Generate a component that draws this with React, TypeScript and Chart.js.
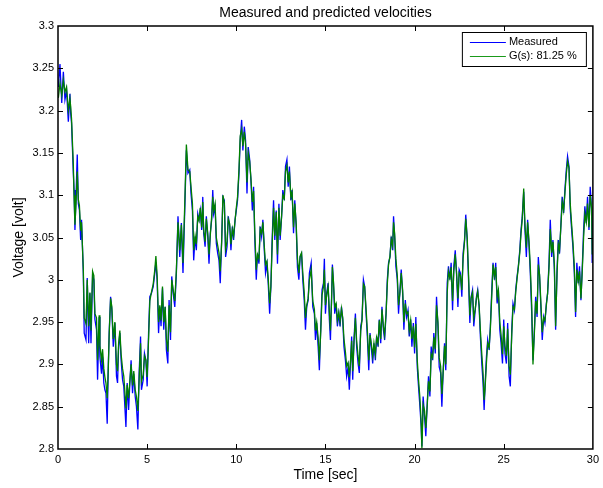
import React, { useEffect, useRef } from "react";
import { Chart, registerables } from "chart.js";

Chart.register(...registerables);

const chartTitle = "Measured and predicted velocities";
const xLabel = "Time [sec]";
const yLabel = "Voltage [volt]";
const seriesNames = ["Measured", "G(s): 81.25 %"];

const time = [
  0.02, 0.11, 0.21, 0.30, 0.39, 0.48, 0.58, 0.67, 0.71, 0.76, 0.86, 0.90, 0.95, 1.01, 1.08, 1.14, 1.20, 1.27, 1.32, 1.42,
  1.47, 1.57, 1.64, 1.72, 1.79, 1.85, 1.94, 2.01, 2.07, 2.16, 2.22, 2.31, 2.35, 2.44, 2.50, 2.57, 2.63, 2.69, 2.76, 2.82,
  2.87, 2.95, 3.02, 3.10, 3.19, 3.28, 3.34, 3.40, 3.47, 3.54, 3.62, 3.69, 3.75, 3.81, 3.88, 3.96, 4.03, 4.10, 4.18, 4.25,
  4.33, 4.40, 4.48, 4.55, 4.63, 4.68, 4.78, 4.85, 4.93, 5.00, 5.08, 5.15, 5.24, 5.34, 5.43, 5.49, 5.56, 5.64, 5.71, 5.78,
  5.86, 5.93, 6.01, 6.08, 6.16, 6.23, 6.31, 6.38, 6.46, 6.55, 6.64, 6.73, 6.83, 6.92, 7.01, 7.11, 7.20, 7.29,
  7.39, 7.46, 7.54, 7.61, 7.69, 7.76, 7.84, 7.91, 7.98, 8.06, 8.12, 8.17, 8.25, 8.32, 8.40, 8.47, 8.54, 8.62, 8.68, 8.73,
  8.81, 8.88, 8.96, 9.03, 9.10, 9.18, 9.25, 9.33, 9.40, 9.48, 9.55, 9.63, 9.70, 9.78, 9.85, 9.93, 10.00, 10.07, 10.15, 10.22,
  10.30, 10.37, 10.45, 10.52, 10.60, 10.67, 10.75, 10.82, 10.90, 10.97, 11.04, 11.12, 11.19, 11.27, 11.34, 11.42, 11.49, 11.57, 11.64, 11.72,
  11.79, 11.87, 11.94, 12.01, 12.09, 12.16, 12.24, 12.31, 12.39, 12.46, 12.54, 12.61, 12.69, 12.76, 12.84, 12.91, 12.98, 13.06, 13.13, 13.21,
  13.28, 13.36, 13.43, 13.51, 13.58, 13.66, 13.73, 13.81, 13.88, 13.95, 14.03,
  14.10, 14.20, 14.29, 14.38, 14.44, 14.51, 14.59, 14.66, 14.74, 14.81, 14.89, 14.94, 15.00, 15.07, 15.15, 15.22, 15.28, 15.34, 15.39, 15.45,
  15.52, 15.60, 15.67, 15.75, 15.82, 15.90, 15.97, 16.04, 16.12, 16.19, 16.27, 16.34, 16.42, 16.47, 16.53, 16.60, 16.68, 16.75, 16.83, 16.90,
  16.98, 17.05, 17.13, 17.20, 17.28, 17.35, 17.43, 17.50, 17.57, 17.65, 17.72, 17.80, 17.87, 17.95, 18.02, 18.10, 18.17, 18.25, 18.32, 18.40,
  18.47, 18.54, 18.62, 18.69, 18.77, 18.82, 18.88, 18.95, 19.03, 19.10, 19.18, 19.25, 19.33, 19.40, 19.48, 19.55, 19.63, 19.70, 19.78, 19.85,
  19.93, 20.00, 20.07, 20.15, 20.22, 20.30, 20.37, 20.41, 20.48, 20.56, 20.63, 20.71, 20.78, 20.86, 20.93, 21.01, 21.08, 21.16, 21.23, 21.31,
  21.38, 21.46, 21.53, 21.60, 21.68, 21.75, 21.83, 21.90, 21.98, 22.05, 22.13, 22.20, 22.28, 22.35, 22.43, 22.50,
  22.57, 22.65, 22.72, 22.80, 22.87, 22.95, 23.02, 23.10, 23.17, 23.25, 23.32, 23.40, 23.47, 23.54, 23.62, 23.69, 23.77, 23.84, 23.90, 23.95,
  24.03, 24.10, 24.18, 24.25, 24.33, 24.40, 24.48, 24.55, 24.63, 24.70, 24.78, 24.85, 24.93, 25.00, 25.07, 25.15, 25.22, 25.30, 25.37, 25.45,
  25.52, 25.60, 25.67, 25.75, 25.82, 25.90, 25.97, 26.04, 26.12, 26.19, 26.27, 26.34, 26.42, 26.49, 26.57, 26.64, 26.72, 26.79, 26.87, 26.94,
  27.01, 27.09, 27.16, 27.24, 27.31, 27.39, 27.46, 27.54, 27.61, 27.69, 27.76, 27.84, 27.91, 27.99, 28.06, 28.13, 28.21, 28.28, 28.36, 28.43,
  28.51, 28.58, 28.66, 28.73, 28.81, 28.88, 28.96, 29.03, 29.10, 29.18, 29.25, 29.33, 29.40, 29.48, 29.55, 29.63, 29.70, 29.78, 29.85, 29.93,
  29.96,
];

const measured = [
  3.228, 3.255, 3.209, 3.246, 3.213, 3.224, 3.187, 3.220, 3.197, 3.185, 3.126, 3.106, 3.059, 3.098, 3.148, 3.090, 3.083, 3.047, 3.071, 3.008,
  2.937, 2.929, 3.002, 2.925, 2.984, 2.925, 3.006, 3.000, 2.953, 2.941, 2.882, 2.956, 2.909, 2.889, 2.909, 2.878, 2.870, 2.866, 2.830, 2.897,
  2.937, 2.980, 2.964, 2.921, 2.949, 2.886, 2.878, 2.921, 2.937, 2.905, 2.882, 2.874, 2.850, 2.826, 2.878, 2.846, 2.878, 2.905, 2.866, 2.889,
  2.862, 2.850, 2.823, 2.889, 2.933, 2.870, 2.882, 2.913, 2.905, 2.874, 2.937, 2.980, 2.984, 2.992, 3.008, 3.021, 3.000, 2.937, 2.968, 2.945,
  2.990, 2.941, 2.968, 2.917, 2.901, 2.976, 2.929, 3.004, 2.984, 2.968, 3.008, 3.075, 3.027, 3.067, 3.008, 3.083, 3.153, 3.126,
  3.130, 3.102, 3.082, 3.023, 3.051, 3.035, 3.078, 3.071, 3.082, 3.059, 3.098, 3.055, 3.039, 3.075, 3.051, 3.019, 3.055, 3.071, 3.106, 3.078,
  3.086, 3.043, 3.031, 3.023, 2.996, 3.047, 3.098, 3.094, 3.027, 3.039, 3.075, 3.063, 3.035, 3.063, 3.047, 3.071, 3.082, 3.094, 3.126, 3.165,
  3.189, 3.153, 3.181, 3.165, 3.102, 3.157, 3.142, 3.118, 3.082, 3.110, 3.047, 3.000, 3.031, 3.019, 3.063, 3.051, 3.071, 3.035, 3.008, 3.019,
  2.996, 2.960, 2.992, 3.047, 3.094, 3.047, 3.082, 3.019, 3.090, 3.047, 3.075, 3.106, 3.094, 3.134, 3.142, 3.110, 3.134, 3.094, 3.106, 3.055,
  3.094, 3.063, 3.015, 3.000, 3.027, 3.031, 3.000, 2.976, 2.941, 2.968, 2.976,
  3.008, 3.020, 2.968, 2.960, 2.929, 2.949, 2.921, 2.893, 2.945, 2.988, 2.996, 3.025, 2.960, 2.984, 2.996, 2.953, 2.929, 2.976, 3.018, 2.996,
  2.960, 2.972, 2.945, 2.960, 2.945, 2.968, 2.953, 2.921, 2.905, 2.886, 2.897, 2.870, 2.909, 2.933, 2.882, 2.929, 2.960, 2.921, 2.901, 2.890,
  2.945, 2.953, 3.000, 2.992, 2.960, 2.933, 2.893, 2.937, 2.921, 2.901, 2.925, 2.905, 2.933, 2.921, 2.953, 2.925, 2.968, 2.941, 2.929, 2.960,
  3.000, 3.020, 3.027, 3.051, 3.035, 3.075, 3.051, 3.016, 3.000, 2.960, 2.988, 3.012, 2.984, 2.941, 2.976, 2.956, 2.964, 2.933, 2.953, 2.921,
  2.949, 2.913, 2.956, 2.897, 2.874, 2.850, 2.826, 2.803, 2.862, 2.838, 2.815, 2.854, 2.886, 2.862, 2.921, 2.905, 2.937, 2.913, 2.980, 2.945,
  2.897, 2.890, 2.850, 2.890, 2.925, 2.893, 2.996, 3.016, 3.000, 3.020, 2.964, 3.016, 3.035, 3.008, 2.968, 3.012,
  3.008, 2.980, 3.031, 3.047, 3.077, 3.047, 3.004, 2.949, 2.980, 2.988, 2.945, 2.964, 2.980, 2.988, 2.968, 2.933, 2.901, 2.878, 2.846, 2.874,
  2.909, 2.929, 2.917, 2.945, 2.988, 3.020, 3.000, 3.020, 2.972, 2.988, 2.941, 2.925, 2.901, 2.953, 2.913, 2.901, 2.949, 2.886, 2.874, 2.941,
  2.972, 2.964, 2.988, 3.004, 3.016, 3.035, 3.059, 3.075, 3.104, 3.059, 3.027, 3.071, 3.039, 3.008, 2.960, 2.905, 2.941, 2.980, 2.956, 3.027,
  3.004, 2.964, 2.929, 2.956, 2.949, 2.972, 2.984, 3.020, 3.071, 3.027, 3.047, 3.012, 2.941, 3.012, 3.047, 3.031, 3.067, 3.098, 3.079, 3.106,
  3.130, 3.146, 3.134, 3.083, 3.059, 3.039, 3.008, 2.956, 3.020, 2.996, 3.016, 2.976, 3.012, 3.059, 3.087, 3.067, 3.098, 3.059, 3.110, 3.083,
  3.020,
];

const predicted = [
  3.215, 3.232, 3.218, 3.236, 3.222, 3.228, 3.200, 3.214, 3.205, 3.190, 3.135, 3.100, 3.065, 3.090, 3.128, 3.095, 3.088, 3.058, 3.068, 3.012,
  2.955, 2.948, 3.000, 2.945, 2.985, 2.940, 3.010, 3.005, 2.960, 2.955, 2.905, 2.958, 2.922, 2.905, 2.918, 2.895, 2.885, 2.878, 2.860, 2.895,
  2.935, 2.978, 2.968, 2.930, 2.950, 2.900, 2.892, 2.925, 2.940, 2.912, 2.895, 2.886, 2.868, 2.848, 2.876, 2.860, 2.880, 2.900, 2.875, 2.892,
  2.870, 2.862, 2.845, 2.882, 2.925, 2.880, 2.888, 2.910, 2.905, 2.885, 2.930, 2.975, 2.985, 2.995, 3.012, 3.028, 3.005, 2.950, 2.970, 2.952,
  2.992, 2.950, 2.968, 2.930, 2.915, 2.970, 2.938, 3.000, 2.988, 2.975, 3.012, 3.068, 3.035, 3.065, 3.020, 3.090, 3.160, 3.130,
  3.128, 3.110, 3.090, 3.035, 3.052, 3.042, 3.075, 3.070, 3.085, 3.062, 3.092, 3.060, 3.045, 3.072, 3.055, 3.030, 3.052, 3.075, 3.098, 3.082,
  3.090, 3.050, 3.040, 3.032, 3.010, 3.045, 3.100, 3.090, 3.036, 3.045, 3.072, 3.066, 3.042, 3.060, 3.052, 3.070, 3.085, 3.098, 3.130, 3.170,
  3.178, 3.158, 3.175, 3.160, 3.115, 3.150, 3.140, 3.120, 3.092, 3.105, 3.055, 3.012, 3.030, 3.025, 3.060, 3.055, 3.068, 3.040, 3.018, 3.022,
  3.002, 2.972, 2.992, 3.040, 3.085, 3.052, 3.080, 3.030, 3.085, 3.052, 3.075, 3.100, 3.096, 3.128, 3.135, 3.115, 3.128, 3.098, 3.104, 3.062,
  3.090, 3.066, 3.025, 3.008, 3.028, 3.032, 3.008, 2.985, 2.955, 2.970, 2.978,
  3.000, 3.012, 2.975, 2.965, 2.940, 2.950, 2.932, 2.905, 2.940, 2.982, 2.992, 3.012, 2.970, 2.982, 2.992, 2.962, 2.940, 2.972, 3.015, 2.998,
  2.968, 2.972, 2.952, 2.962, 2.950, 2.966, 2.955, 2.930, 2.915, 2.898, 2.902, 2.885, 2.908, 2.928, 2.892, 2.925, 2.955, 2.928, 2.910, 2.898,
  2.940, 2.952, 2.995, 2.992, 2.965, 2.940, 2.905, 2.935, 2.925, 2.910, 2.925, 2.912, 2.932, 2.925, 2.952, 2.930, 2.965, 2.945, 2.935, 2.960,
  2.995, 3.018, 3.028, 3.048, 3.040, 3.068, 3.055, 3.025, 3.005, 2.970, 2.985, 3.008, 2.988, 2.950, 2.972, 2.960, 2.962, 2.940, 2.952, 2.930,
  2.945, 2.920, 2.948, 2.905, 2.882, 2.860, 2.830, 2.801, 2.852, 2.845, 2.825, 2.852, 2.880, 2.868, 2.912, 2.908, 2.932, 2.918, 2.970, 2.950,
  2.908, 2.898, 2.865, 2.890, 2.922, 2.900, 2.985, 3.010, 3.002, 3.015, 2.975, 3.010, 3.030, 3.010, 2.978, 3.008,
  3.005, 2.988, 3.025, 3.045, 3.072, 3.050, 3.010, 2.958, 2.978, 2.985, 2.955, 2.965, 2.978, 2.986, 2.970, 2.940, 2.912, 2.890, 2.858, 2.870,
  2.902, 2.925, 2.920, 2.942, 2.982, 3.018, 3.004, 3.015, 2.980, 2.988, 2.950, 2.935, 2.912, 2.945, 2.922, 2.910, 2.942, 2.898, 2.888, 2.935,
  2.968, 2.965, 2.985, 3.002, 3.015, 3.032, 3.055, 3.072, 3.108, 3.065, 3.038, 3.068, 3.045, 3.015, 2.970, 2.900, 2.938, 2.975, 2.960, 3.018,
  3.006, 2.970, 2.938, 2.955, 2.952, 2.970, 2.984, 3.015, 3.060, 3.032, 3.045, 3.018, 2.945, 3.008, 3.042, 3.035, 3.065, 3.092, 3.082, 3.102,
  3.125, 3.140, 3.132, 3.090, 3.065, 3.045, 3.015, 2.962, 3.012, 2.998, 3.010, 2.978, 3.008, 3.050, 3.078, 3.068, 3.090, 3.062, 3.100, 3.085,
  3.030,
];

const FONT = '"Liberation Sans", Arial, Helvetica, sans-serif';
const BLUE = "#0000ff";
const GREEN = "#008000";

const matlabAxes = {
  id: "matlabAxes",
  afterDraw(chart: any) {
    const { ctx, chartArea: a, scales } = chart;
    const xs = scales.x;
    const ys = scales.y;
    const tl = 5;
    ctx.save();
    ctx.strokeStyle = "#000";
    ctx.lineWidth = 1;
    ctx.beginPath();
    xs.ticks.forEach((t: any) => {
      const px = Math.round(xs.getPixelForValue(t.value)) + 0.5;
      if (px < a.left + 2 || px > a.right - 2) return;
      ctx.moveTo(px, a.bottom);
      ctx.lineTo(px, a.bottom - tl);
      ctx.moveTo(px, a.top);
      ctx.lineTo(px, a.top + tl);
    });
    ys.ticks.forEach((t: any) => {
      const py = Math.round(ys.getPixelForValue(t.value)) + 0.5;
      if (py < a.top + 2 || py > a.bottom - 2) return;
      ctx.moveTo(a.left, py);
      ctx.lineTo(a.left + tl, py);
      ctx.moveTo(a.right, py);
      ctx.lineTo(a.right - tl, py);
    });
    ctx.stroke();

    ctx.lineWidth = 1.5;
    ctx.strokeRect(a.left, a.top, a.right - a.left, a.bottom - a.top);

    // title
    ctx.fillStyle = "#000";
    ctx.font = `14px ${FONT}`;
    ctx.textAlign = "center";
    ctx.textBaseline = "middle";
    ctx.fillText(chartTitle, (a.left + a.right) / 2, 13);

    // legend
    const bx = a.right - 131;
    const by = a.top + 6;
    const bw = 124;
    const bh = 34;
    ctx.fillStyle = "#fff";
    ctx.fillRect(bx, by, bw, bh);
    ctx.lineWidth = 1;
    ctx.strokeStyle = "#000";
    ctx.strokeRect(bx + 0.5, by + 0.5, bw, bh);
    const colors = [BLUE, "#1a9a1a"];
    const rows = [by + 10, by + 23.5];
    ctx.font = `11px ${FONT}`;
    ctx.textAlign = "left";
    seriesNames.forEach((name, i) => {
      ctx.strokeStyle = colors[i];
      ctx.lineWidth = 1;
      ctx.beginPath();
      ctx.moveTo(bx + 8, Math.round(rows[i]) + 0.5);
      ctx.lineTo(bx + 44, Math.round(rows[i]) + 0.5);
      ctx.stroke();
      ctx.fillStyle = "#000";
      ctx.fillText(name, bx + 47, rows[i]);
    });
    ctx.restore();
  },
};

export default function App() {
  const ref = useRef<HTMLCanvasElement | null>(null);
  useEffect(() => {
    if (!ref.current) return;
    const chart = new Chart(ref.current, {
      type: "line",
      data: {
        datasets: [
          {
            label: seriesNames[0],
            data: time.map((t, i) => ({ x: t, y: measured[i] })),
            borderColor: BLUE,
            backgroundColor: BLUE,
            borderWidth: 1.3,
            pointRadius: 0,
            tension: 0,
            order: 1,
          },
          {
            label: seriesNames[1],
            data: time.map((t, i) => ({ x: t, y: predicted[i] })),
            borderColor: GREEN,
            backgroundColor: GREEN,
            borderWidth: 1.3,
            pointRadius: 0,
            tension: 0,
            order: 0,
          },
        ],
      },
      options: {
        animation: false,
        responsive: false,
        maintainAspectRatio: false,
        layout: { padding: { top: 26, right: 9, left: 0, bottom: 0 } },
        plugins: {
          legend: { display: false },
          tooltip: { enabled: false },
          title: { display: false },
        },
        scales: {
          x: {
            type: "linear",
            min: 0,
            max: 30,
            afterFit: (s: any) => {
              s.height = 39;
            },
            grid: { display: false, drawTicks: false },
            border: { display: false },
            ticks: {
              stepSize: 5,
              padding: 4,
              color: "#000",
              font: { family: FONT, size: 11 },
              maxRotation: 0,
              autoSkip: false,
            },
            title: {
              display: true,
              text: xLabel,
              color: "#000",
              font: { family: FONT, size: 14 },
              padding: { top: 0, bottom: 4 },
            },
          },
          y: {
            type: "linear",
            min: 2.8,
            max: 3.3,
            afterFit: (s: any) => {
              s.width = 58;
            },
            grid: { display: false, drawTicks: false },
            border: { display: false },
            ticks: {
              stepSize: 0.05,
              padding: 4,
              color: "#000",
              font: { family: FONT, size: 11 },
              autoSkip: false,
              callback: (v: any) => String(Number(Number(v).toFixed(2))),
            },
            title: {
              display: true,
              text: yLabel,
              color: "#000",
              font: { family: FONT, size: 14 },
              padding: { top: 11, bottom: 0 },
            },
          },
        },
      },
      plugins: [matlabAxes],
    });
    return () => chart.destroy();
  }, []);

  return (
    <div style={{ position: "absolute", left: 0, top: 0, width: 603, height: 488, background: "#fff" }}>
      <canvas ref={ref} width={603} height={488} />
    </div>
  );
}
